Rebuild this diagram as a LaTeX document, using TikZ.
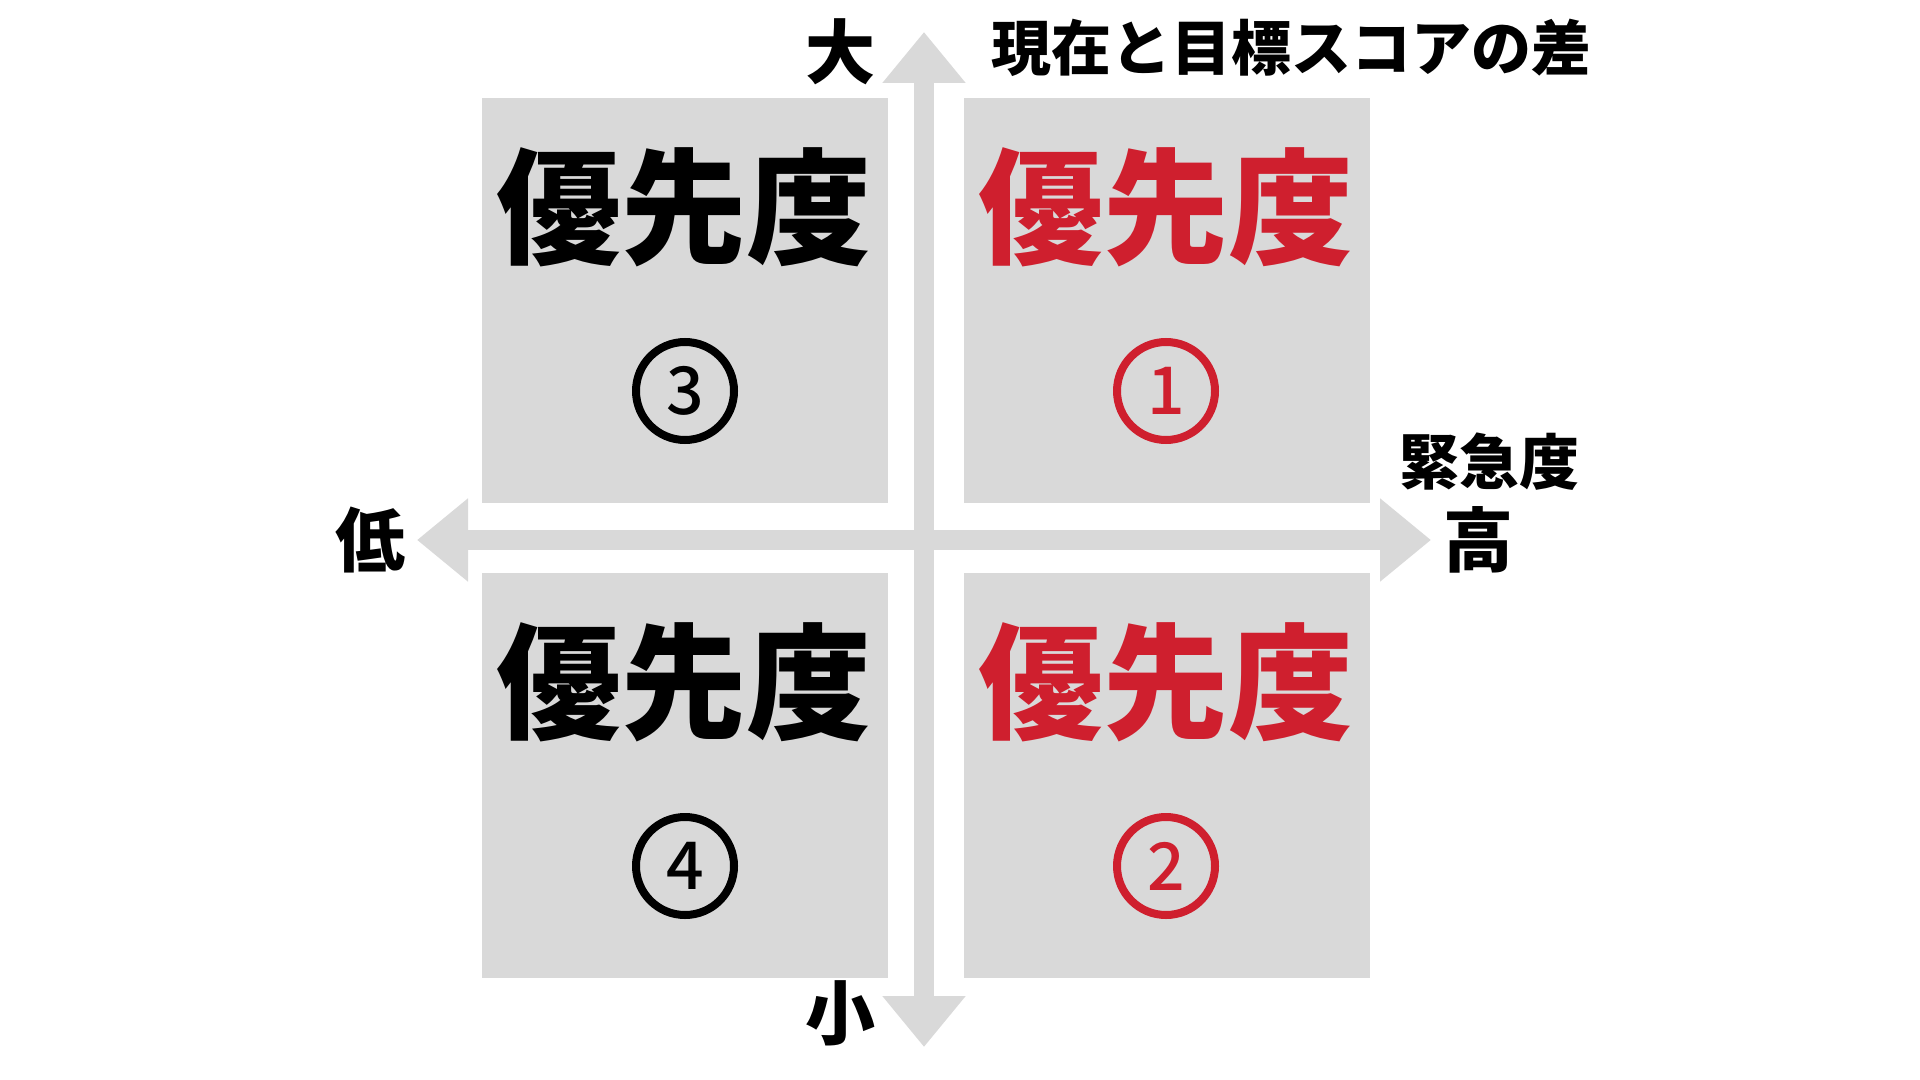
\documentclass[tikz,border=0pt]{standalone}
\usepackage{fontspec}
\setmainfont{Noto Sans CJK JP}
\newfontfamily\numfont{Noto Sans CJK JP}[UprightFont=* Medium]
\usetikzlibrary{arrows.meta}
\definecolor{boxgray}{HTML}{D9D9D9}
\definecolor{prired}{HTML}{CF1F2E}

\begin{document}
\begin{tikzpicture}[x=0.5pt,y=-0.5pt,
    quad/.style={fill=boxgray,minimum width=203pt,minimum height=202.5pt,inner sep=0pt},
    prio/.style={font=\fontsize{62.5}{62.5}\selectfont\bfseries,inner sep=0pt},
    num/.style={shape=circle,draw,line width=4pt,minimum size=49pt,inner sep=0pt,font=\fontsize{33}{33}\selectfont\numfont},
    lab/.style={font=\fontsize{35}{35}\selectfont\bfseries,inner sep=0pt},
    small/.style={font=\fontsize{30}{30}\selectfont\bfseries,inner sep=0pt},
    axis/.style={draw=boxgray,line width=10pt,{Triangle[length=25.5pt,width=40pt]}-{Triangle[length=25.5pt,width=40pt]}}]
      \useasboundingbox (0,0) rectangle (1920,1080);

      \node[quad] (q3) at (685,300.5) {};
      \node[quad] (q1) at (1167,300.5) {};
      \node[quad] (q4) at (685,775.5) {};
      \node[quad] (q2) at (1167,775.5) {};

      \node[prio] (p3) at (684,207) {優先度};
      \node[prio,text=prired] (p1) at (1166,207) {優先度};
      \node[prio] (p4) at (684,682) {優先度};
      \node[prio,text=prired] (p2) at (1166,682) {優先度};

      \node[num] (n3) at (685,391) {3};
      \node[num,draw=prired,text=prired] (n1) at (1166,391) {1};
      \node[num] (n4) at (685,866) {4};
      \node[num,draw=prired,text=prired] (n2) at (1166,866) {2};

      \coordinate (top) at (924,32);
      \coordinate (bottom) at (924,1047);
      \coordinate (left) at (417,540);
      \coordinate (right) at (1431,540);
      \path[axis] (bottom) -- (top);
      \path[axis] (left) -- (right);

      \node[lab] (big) at (840,52) {大};
      \node[lab] (little) at (840,1013) {小};
      \node[lab] (low) at (370,540) {低};
      \node[lab] (high) at (1478,540) {高};
      \node[small] (gap) at (1291,48) {現在と目標スコアの差};
      \node[small] (urgency) at (1489,462) {緊急度};

    \end{tikzpicture}
\end{document}
